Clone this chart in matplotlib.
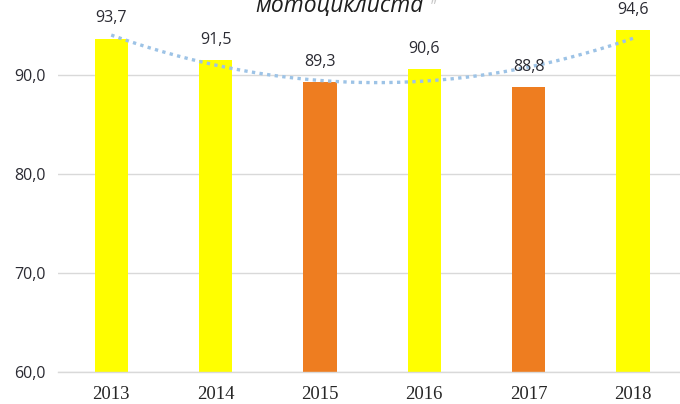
import numpy as np
import matplotlib
matplotlib.use("Agg")
import matplotlib.pyplot as plt

years = ["2013", "2014", "2015", "2016", "2017", "2018"]
values = [93.7, 91.5, 89.3, 90.6, 88.8, 94.6]
bar_colors = ["#FFFF00", "#FFFF00", "#EE7D20", "#FFFF00", "#EE7D20", "#FFFF00"]
yticks = [60, 70, 80, 90]
title = "мотоциклиста"
title_end = "\u201d"

fig = plt.figure(figsize=(6.8, 4.04), dpi=100)
ax = fig.add_axes([58/680, 1 - 372/404, 1 - 58/680, 372/404])

x = np.arange(len(years))
ax.bar(x, values, width=0.32, color=bar_colors, zorder=2)

# polynomial trendline (order 2) fitted to the data
coef = np.polyfit(x, values, 2)
xs = np.linspace(x[0], x[-1], 200)
ax.plot(xs, np.polyval(coef, xs), linestyle=(0, (1, 1.3)), color="#9DC3E6",
        linewidth=2.4, zorder=3)

for xi, v in zip(x, values):
    ax.annotate(f"{v:.1f}".replace(".", ","), (xi, v), xytext=(0, 14.5),
                textcoords="offset points", ha="center", va="center",
                fontsize=11.5, color="#2b2b33", family="Open Sans", zorder=4)

ax.set_ylim(60, 97.6)
ax.set_xlim(-0.51, 5.45)
ax.set_yticks(yticks)
ax.set_yticklabels([f"{t:.1f}".replace(".", ",") for t in yticks],
                   fontsize=11.5, color="#2b2b33", family="Open Sans")
ax.set_xticks(x)
ax.set_xticklabels(years, fontsize=13.5, color="#262626", family="Liberation Serif")
ax.tick_params(axis="both", length=0)
ax.tick_params(axis="y", pad=9)
ax.tick_params(axis="x", pad=10)
ax.grid(axis="y", color="#D9D9D9", linewidth=1, zorder=0)
for s in ["top", "right", "left"]:
    ax.spines[s].set_visible(False)
ax.spines["bottom"].set_color("#D9D9D9")
ax.spines["bottom"].set_linewidth(1)

fig.text(339/680, 1 - 6/404, title, ha="center", va="center", fontsize=16.5,
         style="italic", weight="medium", color="#1f1f1f", family="Open Sans")
fig.text(431/680, 1 - 7/404, title_end, ha="left", va="center", fontsize=11,
         color="#c8c8c8", family="Open Sans")

fig.savefig("out.png", dpi=100)
